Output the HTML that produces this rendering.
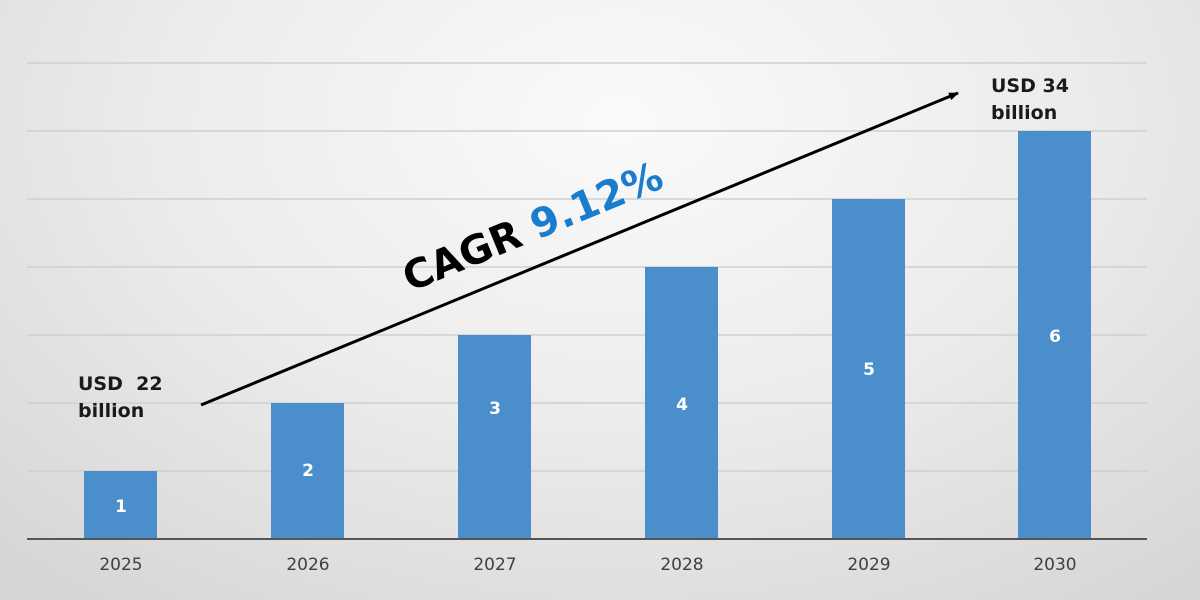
<!DOCTYPE html>
<html><head><meta charset="utf-8"><style>
html,body{margin:0;padding:0;width:1200px;height:600px;overflow:hidden}
body{background:radial-gradient(ellipse 900px 600px at 620px 120px,#fafafa 0%,#ececec 50%,#d6d6d6 100%);}
svg{display:block}
text{font-family:"DejaVu Sans","Liberation Sans",sans-serif}
</style></head><body>
<svg width="1200" height="600" viewBox="0 0 1200 600">
<defs><marker id="ah" markerWidth="10" markerHeight="8" refX="9" refY="4" orient="auto" markerUnits="userSpaceOnUse"><path d="M0,0 L10,4 L0,8 z" fill="#000"/></marker></defs>
<g stroke="#cfcfcf" stroke-width="1.5">
<line x1="27" y1="63" x2="1147" y2="63"/>
<line x1="27" y1="131" x2="1147" y2="131"/>
<line x1="27" y1="199" x2="1147" y2="199"/>
<line x1="27" y1="267" x2="1147" y2="267"/>
<line x1="27" y1="335" x2="1147" y2="335"/>
<line x1="27" y1="403" x2="1147" y2="403"/>
<line x1="27" y1="471" x2="1147" y2="471"/>
</g>
<g fill="#4a8fcb">
<rect x="84" y="471" width="73" height="68"/>
<rect x="271" y="403" width="73" height="136"/>
<rect x="458" y="335" width="73" height="204"/>
<rect x="645" y="267" width="73" height="272"/>
<rect x="832" y="199" width="73" height="340"/>
<rect x="1018" y="131" width="73" height="408"/>
</g>
<line x1="27" y1="539" x2="1147" y2="539" stroke="#555" stroke-width="2"/>
<g fill="#fff" font-size="17" font-weight="bold" text-anchor="middle">
<text x="121" y="512">1</text><text x="308" y="476">2</text><text x="495" y="414">3</text>
<text x="682" y="410">4</text><text x="869" y="375">5</text><text x="1055" y="342">6</text>
</g>
<g fill="#404040" font-size="17" text-anchor="middle">
<text x="121" y="570">2025</text><text x="308" y="570">2026</text><text x="495" y="570">2027</text>
<text x="682" y="570">2028</text><text x="869" y="570">2029</text><text x="1055" y="570">2030</text>
</g>
<line x1="201" y1="405" x2="958" y2="93" stroke="#000" stroke-width="3" marker-end="url(#ah)"/>
<g font-size="19" font-weight="bold" fill="#1a1a1a">
<text x="78" y="390">USD&#160; 22</text><text x="78" y="417">billion</text>
<text x="991" y="92">USD 34</text><text x="991" y="119">billion</text>
</g>
<text transform="translate(410,292) rotate(-22.4)" font-size="40" font-weight="bold" fill="#000">CAGR <tspan fill="#1a7ccc">9.12%</tspan></text>
</svg>
</body></html>
